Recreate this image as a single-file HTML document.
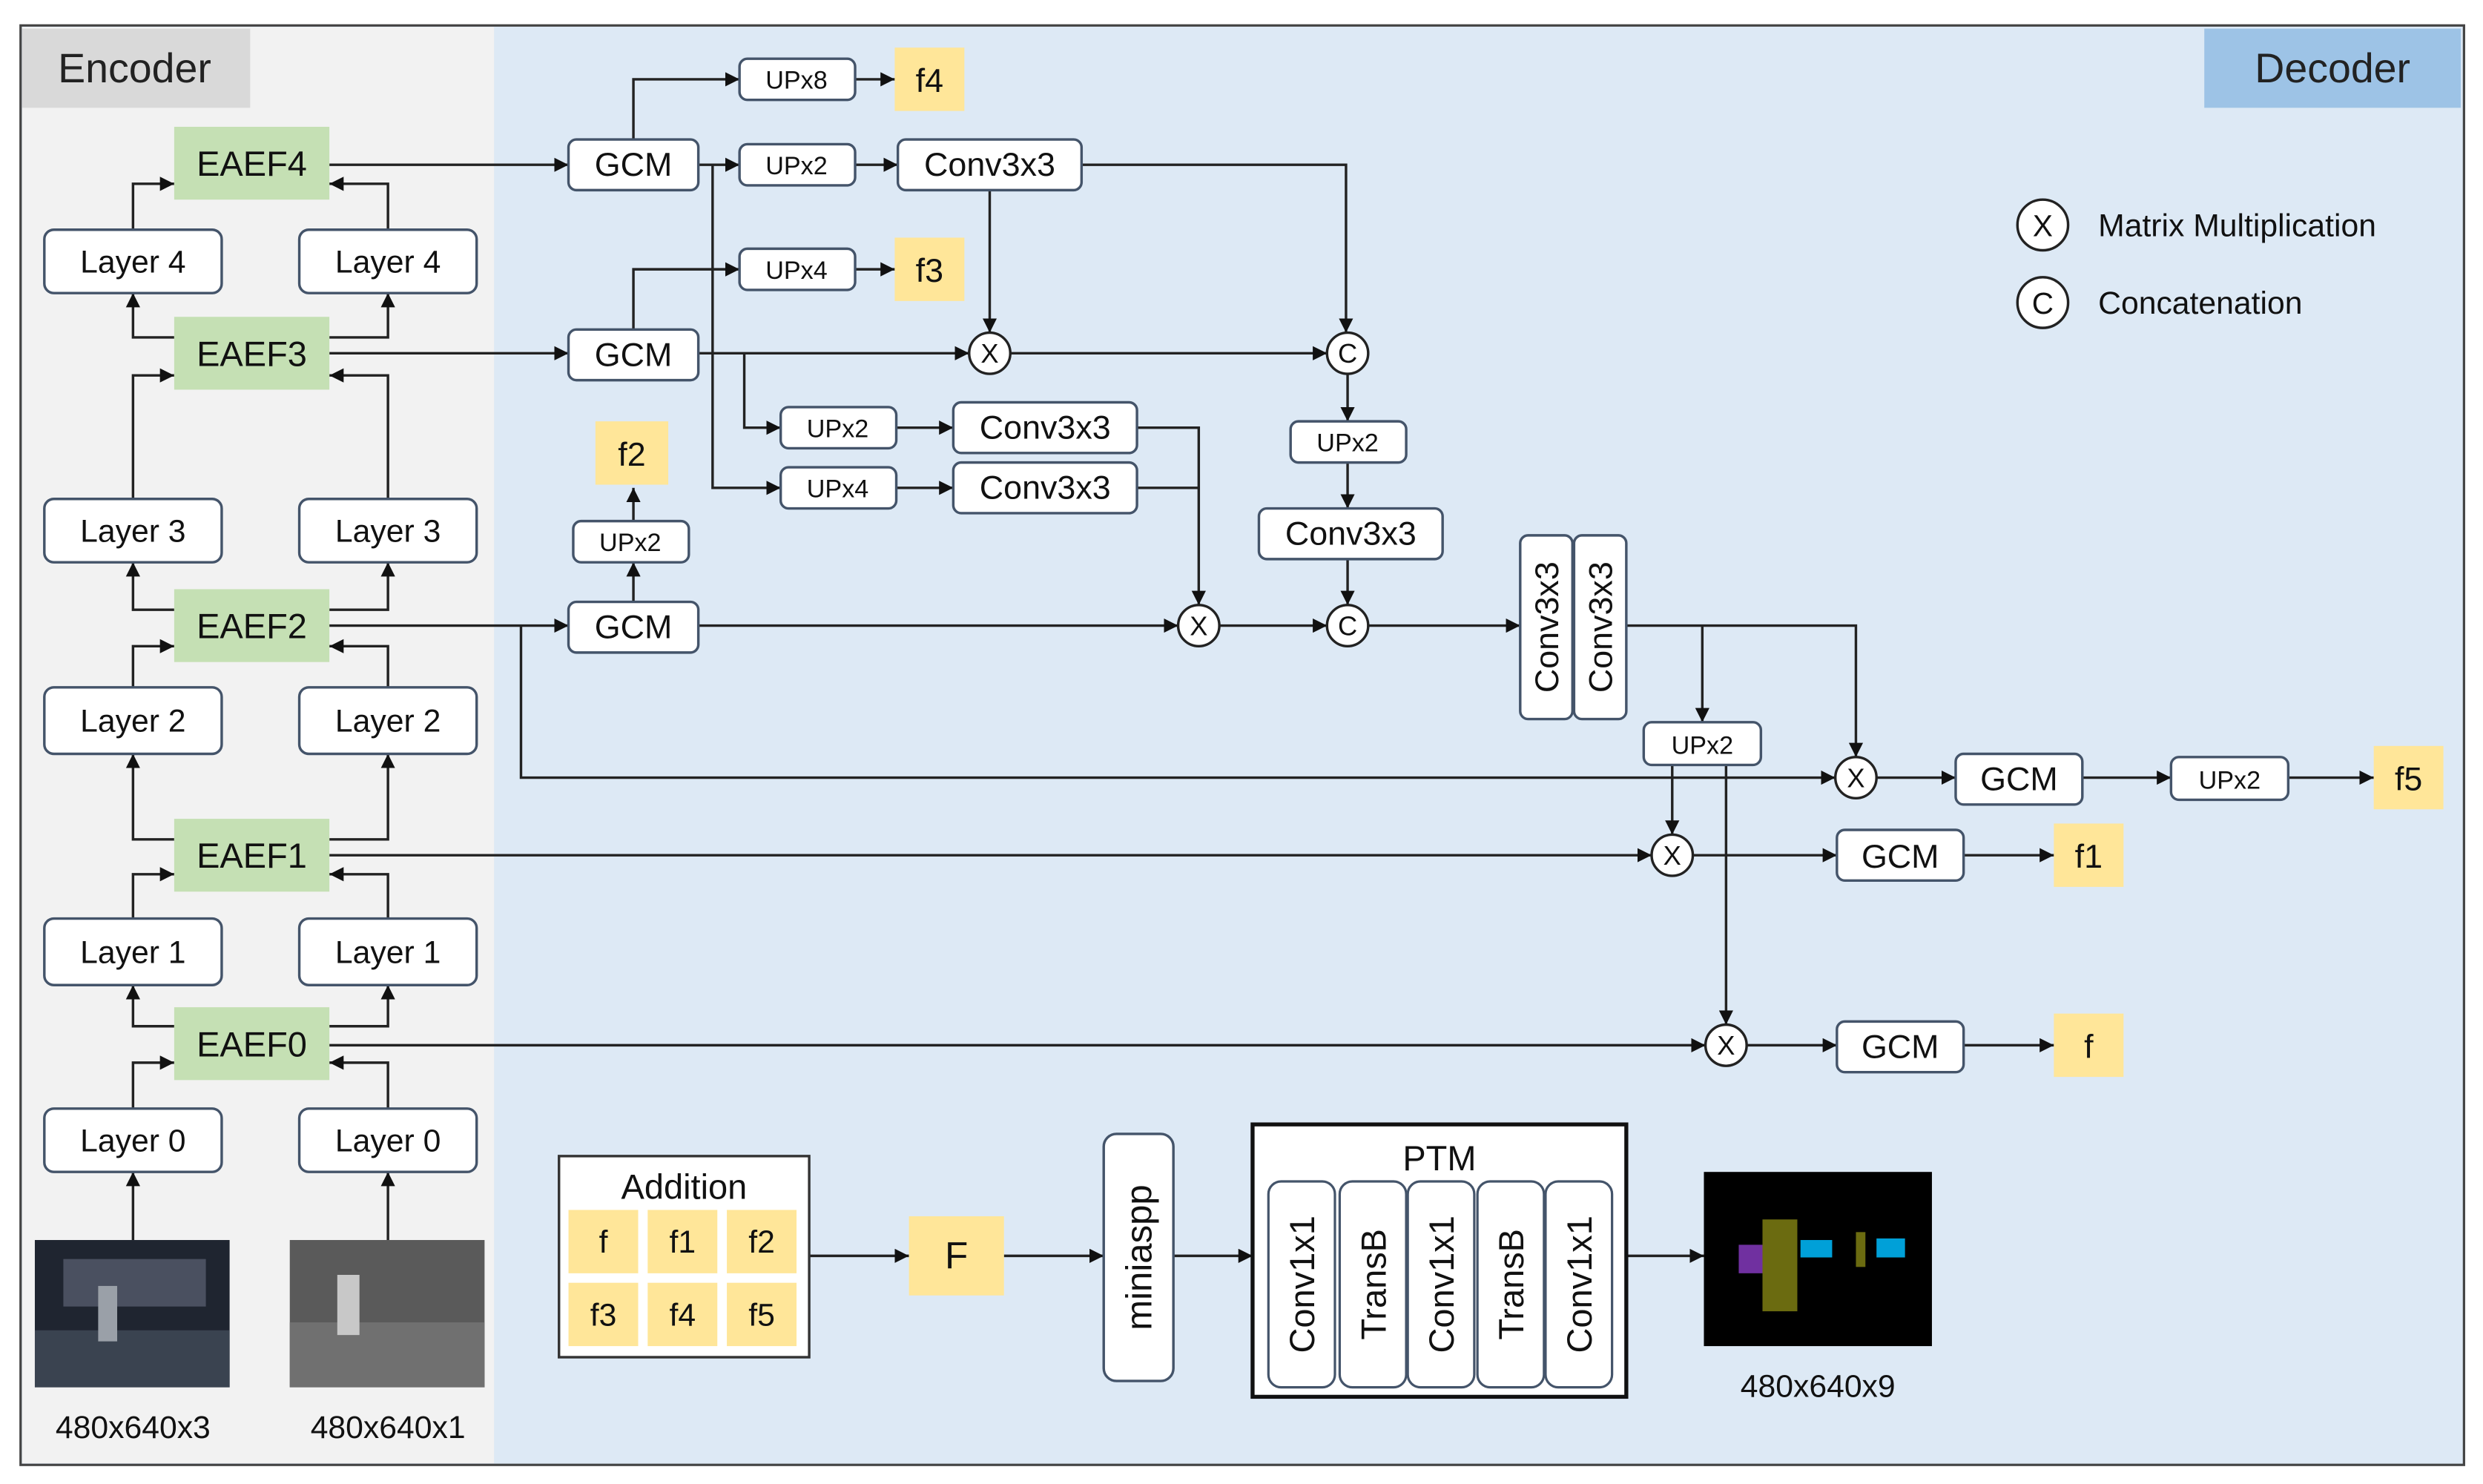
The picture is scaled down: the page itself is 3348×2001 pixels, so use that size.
<!DOCTYPE html>
<html><head><meta charset="utf-8"><style>html,body{margin:0;padding:0;background:#fff}svg{display:block}</style></head>
<body>
<svg width="3348" height="2001" viewBox="0 0 1568 937" xmlns="http://www.w3.org/2000/svg" font-family="Liberation Sans, sans-serif">
<defs>
<marker id="a" viewBox="0 0 10 10" refX="10" refY="5" markerWidth="9" markerHeight="9" markerUnits="userSpaceOnUse" orient="auto"><path d="M0,0L10,5L0,10z" fill="#111"/></marker>
</defs>
<rect x="0" y="0" width="1568" height="937" fill="#fff"/>
<rect x="13" y="16" width="1543" height="909" fill="#dde9f5" stroke="#444" stroke-width="1.5"/>
<rect x="14" y="17" width="298" height="907" fill="#f2f2f2"/>
<rect x="14" y="18" width="144" height="50" fill="#d9d9d9"/>
<text x="85" y="52" font-size="26" text-anchor="middle" fill="#222">Encoder</text>
<rect x="1392" y="18" width="162" height="50" fill="#9dc3e6"/>
<text x="1473" y="52" font-size="26" text-anchor="middle" fill="#222">Decoder</text>

<g fill="none" stroke="#222" stroke-width="1.6">
<!-- encoder arrows -->
<path d="M84,145V116H110" marker-end="url(#a)"/><path d="M245,145V116H208" marker-end="url(#a)"/>
<path d="M110,213H84V185" marker-end="url(#a)"/><path d="M208,213H245V185" marker-end="url(#a)"/>
<path d="M84,315V237H110" marker-end="url(#a)"/><path d="M245,315V237H208" marker-end="url(#a)"/>
<path d="M110,385H84V355" marker-end="url(#a)"/><path d="M208,385H245V355" marker-end="url(#a)"/>
<path d="M84,434V408H110" marker-end="url(#a)"/><path d="M245,434V408H208" marker-end="url(#a)"/>
<path d="M110,530H84V476" marker-end="url(#a)"/><path d="M208,530H245V476" marker-end="url(#a)"/>
<path d="M84,580V552H110" marker-end="url(#a)"/><path d="M245,580V552H208" marker-end="url(#a)"/>
<path d="M110,648H84V622" marker-end="url(#a)"/><path d="M208,648H245V622" marker-end="url(#a)"/>
<path d="M84,700V671H110" marker-end="url(#a)"/><path d="M245,700V671H208" marker-end="url(#a)"/>
<path d="M84,783V740" marker-end="url(#a)"/><path d="M245,783V740" marker-end="url(#a)"/>
<!-- decoder -->
<path d="M208,104H359" marker-end="url(#a)"/>
<path d="M208,223H359" marker-end="url(#a)"/>
<path d="M208,395H359" marker-end="url(#a)"/>
<path d="M329,395V491H1159" marker-end="url(#a)"/>
<path d="M208,540H1043" marker-end="url(#a)"/>
<path d="M208,660H1077" marker-end="url(#a)"/>
<path d="M400,88V50H467" marker-end="url(#a)"/>
<path d="M540,50H565" marker-end="url(#a)"/>
<path d="M441,104H467" marker-end="url(#a)"/>
<path d="M540,104H567" marker-end="url(#a)"/>
<path d="M450,104V308H493" marker-end="url(#a)"/>
<path d="M400,208V170H467" marker-end="url(#a)"/>
<path d="M540,170H565" marker-end="url(#a)"/>
<path d="M441,223H612" marker-end="url(#a)"/>
<path d="M470,223V270H493" marker-end="url(#a)"/>
<path d="M566,270H602" marker-end="url(#a)"/>
<path d="M566,308H602" marker-end="url(#a)"/>
<path d="M625,120V210" marker-end="url(#a)"/>
<path d="M683,104H850V210" marker-end="url(#a)"/>
<path d="M638,223H838" marker-end="url(#a)"/>
<path d="M718,270H757V382" marker-end="url(#a)"/>
<path d="M718,308H757"/>
<path d="M441,395H744" marker-end="url(#a)"/>
<path d="M770,395H838" marker-end="url(#a)"/>
<path d="M851,236V266" marker-end="url(#a)"/>
<path d="M851,292V321" marker-end="url(#a)"/>
<path d="M851,353V382" marker-end="url(#a)"/>
<path d="M864,395H960" marker-end="url(#a)"/>
<path d="M400,380V355" marker-end="url(#a)"/>
<path d="M400,329V308" marker-end="url(#a)"/>
<path d="M1027,395H1172V478" marker-end="url(#a)"/>
<path d="M1075,395V456" marker-end="url(#a)"/>
<path d="M1056,483V527" marker-end="url(#a)"/>
<path d="M1090,483V647" marker-end="url(#a)"/>
<path d="M1185,491H1235" marker-end="url(#a)"/>
<path d="M1315,491H1371" marker-end="url(#a)"/>
<path d="M1445,491H1499" marker-end="url(#a)"/>
<path d="M1069,540H1160" marker-end="url(#a)"/>
<path d="M1240,540H1297" marker-end="url(#a)"/>
<path d="M1103,660H1160" marker-end="url(#a)"/>
<path d="M1240,660H1297" marker-end="url(#a)"/>
<path d="M511,793H574" marker-end="url(#a)"/>
<path d="M634,793H697" marker-end="url(#a)"/>
<path d="M741,793H791" marker-end="url(#a)"/>
<path d="M1027,793H1076" marker-end="url(#a)"/>
</g>

<!-- green EAEF -->
<g fill="#c5e0b4">
<rect x="110" y="80" width="98" height="46"/><rect x="110" y="200" width="98" height="46"/>
<rect x="110" y="372" width="98" height="46"/><rect x="110" y="517" width="98" height="46"/>
<rect x="110" y="636" width="98" height="46"/>
</g>
<g font-size="22" text-anchor="middle" fill="#111">
<text x="159" y="111">EAEF4</text><text x="159" y="231">EAEF3</text><text x="159" y="403">EAEF2</text>
<text x="159" y="548">EAEF1</text><text x="159" y="667">EAEF0</text>
</g>

<!-- white boxes -->
<g fill="#fff" stroke="#44546a" stroke-width="1.6">
<rect x="28" y="145" width="112" height="40" rx="6"/><rect x="189" y="145" width="112" height="40" rx="6"/>
<rect x="28" y="315" width="112" height="40" rx="6"/><rect x="189" y="315" width="112" height="40" rx="6"/>
<rect x="28" y="434" width="112" height="42" rx="6"/><rect x="189" y="434" width="112" height="42" rx="6"/>
<rect x="28" y="580" width="112" height="42" rx="6"/><rect x="189" y="580" width="112" height="42" rx="6"/>
<rect x="28" y="700" width="112" height="40" rx="6"/><rect x="189" y="700" width="112" height="40" rx="6"/>
<rect x="359" y="88" width="82" height="32" rx="5"/><rect x="359" y="208" width="82" height="32" rx="5"/>
<rect x="359" y="380" width="82" height="32" rx="5"/>
<rect x="467" y="37" width="73" height="26" rx="5"/><rect x="467" y="91" width="73" height="26" rx="5"/>
<rect x="467" y="157" width="73" height="26" rx="5"/>
<rect x="567" y="88" width="116" height="32" rx="5"/>
<rect x="493" y="257" width="73" height="26" rx="5"/><rect x="493" y="295" width="73" height="26" rx="5"/>
<rect x="602" y="254" width="116" height="32" rx="5"/><rect x="602" y="292" width="116" height="32" rx="5"/>
<rect x="362" y="329" width="73" height="26" rx="5"/>
<rect x="815" y="266" width="73" height="26" rx="5"/>
<rect x="795" y="321" width="116" height="32" rx="5"/>
<rect x="960" y="338" width="33" height="116" rx="5"/><rect x="994" y="338" width="33" height="116" rx="5"/>
<rect x="1038" y="456" width="74" height="27" rx="5"/>
<rect x="1235" y="476" width="80" height="32" rx="5"/>
<rect x="1371" y="478" width="74" height="27" rx="5"/>
<rect x="1160" y="524" width="80" height="32" rx="5"/>
<rect x="1160" y="645" width="80" height="32" rx="5"/>
<rect x="697" y="716" width="44" height="156" rx="8"/>
</g>
<g fill="#fff" stroke="#222" stroke-width="1.6">
<circle cx="625" cy="223" r="13"/><circle cx="851" cy="223" r="13"/>
<circle cx="757" cy="395" r="13"/><circle cx="851" cy="395" r="13"/>
<circle cx="1172" cy="491" r="13"/><circle cx="1056" cy="540" r="13"/><circle cx="1090" cy="660" r="13"/>
<circle cx="1290" cy="142" r="16"/><circle cx="1290" cy="191" r="16"/>
</g>
<g font-size="17" text-anchor="middle" fill="#111">
<text x="625" y="229">X</text><text x="851" y="229">C</text><text x="757" y="401">X</text><text x="851" y="401">C</text>
<text x="1172" y="497">X</text><text x="1056" y="546">X</text><text x="1090" y="666">X</text>
<text x="1290" y="149" font-size="19">X</text><text x="1290" y="198" font-size="19">C</text>
</g>
<g font-size="20" fill="#111">
<text x="1325" y="149">Matrix Multiplication</text><text x="1325" y="198">Concatenation</text>
</g>
<g font-size="20" text-anchor="middle" fill="#111">
<text x="84" y="172">Layer 4</text><text x="245" y="172">Layer 4</text>
<text x="84" y="342">Layer 3</text><text x="245" y="342">Layer 3</text>
<text x="84" y="462">Layer 2</text><text x="245" y="462">Layer 2</text>
<text x="84" y="608">Layer 1</text><text x="245" y="608">Layer 1</text>
<text x="84" y="727">Layer 0</text><text x="245" y="727">Layer 0</text>
<text x="84" y="908">480x640x3</text><text x="245" y="908">480x640x1</text>
<text x="1148" y="882">480x640x9</text>
</g>
<g font-size="21" text-anchor="middle" fill="#111">
<text x="400" y="111">GCM</text><text x="400" y="231">GCM</text><text x="400" y="403">GCM</text>
<text x="625" y="111">Conv3x3</text><text x="660" y="277">Conv3x3</text><text x="660" y="315">Conv3x3</text>
<text x="853" y="344">Conv3x3</text>
<text x="1275" y="499">GCM</text><text x="1200" y="548">GCM</text><text x="1200" y="668">GCM</text>
</g>
<g font-size="16" text-anchor="middle" fill="#111">
<text x="503" y="56">UPx8</text><text x="503" y="110">UPx2</text><text x="503" y="176">UPx4</text>
<text x="529" y="276">UPx2</text><text x="529" y="314">UPx4</text><text x="398" y="348">UPx2</text>
<text x="851" y="285">UPx2</text><text x="1075" y="476">UPx2</text><text x="1408" y="498">UPx2</text>
</g>
<g font-size="21" text-anchor="middle" fill="#111">
<text transform="translate(984,396) rotate(-90)">Conv3x3</text>
<text transform="translate(1018,396) rotate(-90)">Conv3x3</text>
<text transform="translate(727,794) rotate(-90)" font-size="23">miniaspp</text>
</g>
<!-- yellow outputs -->
<g fill="#ffe699">
<rect x="565" y="30" width="44" height="40"/><rect x="565" y="150" width="44" height="40"/>
<rect x="376" y="266" width="46" height="40"/>
<rect x="1499" y="471" width="44" height="40"/><rect x="1297" y="520" width="44" height="40"/>
<rect x="1297" y="640" width="44" height="40"/>
<rect x="574" y="768" width="60" height="50"/>
</g>
<g font-size="21" text-anchor="middle" fill="#111">
<text x="587" y="58">f4</text><text x="587" y="178">f3</text><text x="399" y="294">f2</text>
<text x="1521" y="499">f5</text><text x="1319" y="548">f1</text><text x="1319" y="668">f</text>
<text x="604" y="801" font-size="24">F</text>
</g>
<!-- Addition -->
<rect x="353" y="730" width="158" height="127" fill="#fff" stroke="#333" stroke-width="1.6"/>
<text x="432" y="757" font-size="22" text-anchor="middle" fill="#111">Addition</text>
<g fill="#ffe699">
<rect x="359" y="764" width="44" height="40"/><rect x="409" y="764" width="44" height="40"/><rect x="459" y="764" width="44" height="40"/>
<rect x="359" y="810" width="44" height="40"/><rect x="409" y="810" width="44" height="40"/><rect x="459" y="810" width="44" height="40"/>
</g>
<g font-size="20" text-anchor="middle" fill="#111">
<text x="381" y="791">f</text><text x="431" y="791">f1</text><text x="481" y="791">f2</text>
<text x="381" y="837">f3</text><text x="431" y="837">f4</text><text x="481" y="837">f5</text>
</g>
<!-- PTM -->
<rect x="791" y="710" width="236" height="172" fill="#fff" stroke="#111" stroke-width="2.5"/>
<text x="909" y="739" font-size="22" text-anchor="middle" fill="#111">PTM</text>
<g fill="#fff" stroke="#44546a" stroke-width="1.5">
<rect x="801" y="746" width="42" height="130" rx="8"/><rect x="846" y="746" width="42" height="130" rx="8"/>
<rect x="889" y="746" width="42" height="130" rx="8"/><rect x="933" y="746" width="42" height="130" rx="8"/>
<rect x="976" y="746" width="42" height="130" rx="8"/>
</g>
<g font-size="22" text-anchor="middle" fill="#111">
<text transform="translate(830,811) rotate(-90)">Conv1x1</text>
<text transform="translate(875,811) rotate(-90)">TransB</text>
<text transform="translate(918,811) rotate(-90)">Conv1x1</text>
<text transform="translate(962,811) rotate(-90)">TransB</text>
<text transform="translate(1005,811) rotate(-90)">Conv1x1</text>
</g>
<!-- images -->
<rect x="22" y="783" width="123" height="93" fill="#1f2530"/>
<rect x="22" y="840" width="123" height="36" fill="#3a4350"/>
<rect x="40" y="795" width="90" height="30" fill="#4a5060"/>
<rect x="62" y="812" width="12" height="35" fill="#9aa0a8"/>
<rect x="183" y="783" width="123" height="93" fill="#5a5a5a"/>
<rect x="183" y="835" width="123" height="41" fill="#707070"/>
<rect x="213" y="805" width="14" height="38" fill="#c8c8c8"/>
<rect x="1076" y="740" width="144" height="110" fill="#000"/>
<rect x="1098" y="786" width="22" height="18" fill="#7030a0"/>
<rect x="1113" y="770" width="22" height="58" fill="#6b6b10"/>
<rect x="1137" y="783" width="20" height="11" fill="#00a0d8"/>
<rect x="1172" y="778" width="6" height="22" fill="#6b6b10"/>
<rect x="1185" y="782" width="18" height="12" fill="#00a0d8"/>
</svg>
</body></html>
